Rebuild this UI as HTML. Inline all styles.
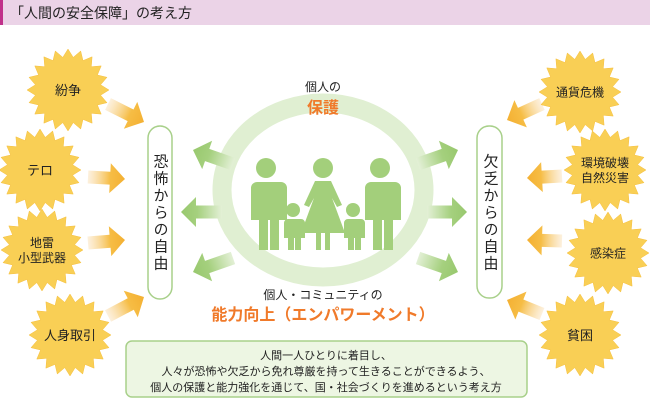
<!DOCTYPE html>
<html><head><meta charset="utf-8"><style>
html,body{margin:0;padding:0;background:#fff;}
svg{display:block;}
text{font-family:"Liberation Sans","Noto Sans CJK JP",sans-serif;}
</style></head><body>
<svg id="s" width="650" height="401" viewBox="0 0 650 401" xmlns="http://www.w3.org/2000/svg">
<defs>
<linearGradient id="og" x1="0" y1="0" x2="1" y2="0"><stop offset="0" stop-color="#fbe7c8" stop-opacity="0.6"/><stop offset="0.6" stop-color="#f6bd45"/><stop offset="1" stop-color="#f4b032"/></linearGradient>
<linearGradient id="gg" x1="0" y1="0" x2="1" y2="0"><stop offset="0" stop-color="#e3f0d6"/><stop offset="0.6" stop-color="#a5d07e"/><stop offset="1" stop-color="#98c86e"/></linearGradient>
</defs>
<rect x="0" y="0" width="650" height="25" fill="#ebd3e7"/>
<rect x="0" y="0" width="3" height="25" fill="#c0308a"/>
<text x="10" y="18" font-size="14" fill="#222">「人間の安全保障」の考え方</text>

<ellipse cx="323" cy="190" rx="101" ry="87" fill="none" stroke="#e0efd2" stroke-width="19"/>
<g id="arrows"></g>
<g id="suns"></g>

<g fill="#a3cf7b">
<circle cx="266" cy="168" r="10"/>
<path d="M251 182 h30 a6 6 0 0 1 6 6 v32 h-8 v30 h-9 v-30 h-2 v30 h-9 v-30 h-8 v-32 a6 6 0 0 1 6 -6z"/>
<circle cx="380" cy="168" r="10"/>
<path d="M365 182 h30 a6 6 0 0 1 6 6 v32 h-8 v30 h-9 v-30 h-2 v30 h-9 v-30 h-8 v-32 a6 6 0 0 1 6 -6z"/>
<circle cx="323" cy="168" r="10"/>
<path d="M315 181 h16 l11 24 l-5 2 l-5 -9 l13 35 h-15 v17 h-5 v-17 h-4 v17 h-5 v-17 h-15 l13 -35 l-5 9 l-5 -2z"/>
<circle cx="293" cy="210" r="7"/>
<path d="M285 219 h16 a4 4 0 0 1 4 4 v15 h-4 v12 h-6 v-12 h-1 v12 h-6 v-12 h-4 v-15 a4 4 0 0 1 4 -4z"/>
<circle cx="353" cy="210" r="7"/>
<path d="M345 219 h16 a4 4 0 0 1 4 4 v15 h-4 v12 h-6 v-12 h-1 v12 h-6 v-12 h-4 v-15 a4 4 0 0 1 4 -4z"/>
</g>

<rect x="148" y="126" width="24" height="173" rx="12" fill="#fff" stroke="#a8d08a" stroke-width="1.5"/>
<rect x="477" y="126" width="25" height="172" rx="12" fill="#fff" stroke="#a8d08a" stroke-width="1.5"/>
<text font-size="15" fill="#222" text-anchor="middle" letter-spacing="2" style="writing-mode:vertical-rl" x="160" y="213">恐怖からの自由</text>
<text font-size="15" fill="#222" text-anchor="middle" letter-spacing="2" style="writing-mode:vertical-rl" x="490" y="213">欠乏からの自由</text>

<text x="323" y="91" font-size="12" fill="#222" text-anchor="middle">個人の</text>
<text x="323" y="113" font-size="16" font-weight="bold" fill="#f07a2a" text-anchor="middle">保護</text>
<text x="323" y="299" font-size="12" fill="#222" text-anchor="middle">個人・コミュニティの</text>
<text x="323" y="320" font-size="16" font-weight="bold" fill="#f07a2a" text-anchor="middle">能力向上（エンパワーメント）</text>

<rect x="126" y="341" width="401" height="56" rx="6" fill="#edf6e3" stroke="#a8d08a" stroke-width="1.5"/>
<g font-size="11" fill="#222" text-anchor="middle">
<text x="326" y="359">人間一人ひとりに着目し、</text>
<text x="326" y="375">人々が恐怖や欠乏から免れ尊厳を持って生きることができるよう、</text>
<text x="326" y="391">個人の保護と能力強化を通じて、国・社会づくりを進めるという考え方</text>
</g>
</svg>
<script>
var NS="http://www.w3.org/2000/svg";
function el(t,a,p){var e=document.createElementNS(NS,t);for(var k in a)e.setAttribute(k,a[k]);p.appendChild(e);return e;}
var A=document.getElementById("arrows");
function arrow(x1,y1,x2,y2,g,sw,hw,hl){
 var dx=x2-x1,dy=y2-y1,L=Math.sqrt(dx*dx+dy*dy),ang=Math.atan2(dy,dx)*180/Math.PI;
 var d="M0 "+(-sw/2)+" L"+(L-hl)+" "+(-sw/2)+" L"+(L-hl)+" "+(-hw/2)+" L"+L+" 0 L"+(L-hl)+" "+(hw/2)+" L"+(L-hl)+" "+(sw/2)+" L0 "+(sw/2)+"Z";
 el("path",{d:d,fill:"url(#"+g+")",transform:"translate("+x1+","+y1+") rotate("+ang+")"},A);
}
arrow(108,104,144,122,"og",13,30,15);
arrow(88,177,125,179,"og",13,30,15);
arrow(88,243,125,240,"og",13,30,15);
arrow(108,316,144,297,"og",13,30,15);
arrow(542,104,507,120,"og",13,30,15);
arrow(562,176,527,178,"og",13,30,15);
arrow(562,241,527,240,"og",13,30,15);
arrow(542,314,507,300,"og",13,30,15);
arrow(233,164,193,150,"gg",13,30,15);
arrow(222,212,181,212,"gg",13,30,15);
arrow(233,258,193,272,"gg",13,30,15);
arrow(418,164,458,150,"gg",13,30,15);
arrow(427,212,467,212,"gg",13,30,15);
arrow(418,258,458,272,"gg",13,30,15);
var S=document.getElementById("suns");
function sun(cx,cy,lines,fs){
 var n=20,p=[];
 for(var i=0;i<n*2;i++){var r=i%2?33:41;var a=Math.PI*i/n-Math.PI/2;p.push((cx+r*Math.cos(a)).toFixed(1)+","+(cy+r*Math.sin(a)).toFixed(1));}
 el("polygon",{points:p.join(" "),fill:"#f9cf55",stroke:"#f6c040","stroke-width":"0.5"},S);
 var lh=fs+3,y0=cy-(lines.length-1)*lh/2+fs*0.38;
 lines.forEach(function(t,i){var e=el("text",{x:cx,y:y0+i*lh,"font-size":fs,fill:"#222","text-anchor":"middle"},S);e.textContent=t;});
}
sun(68,90,["紛争"],13);
sun(40,170,["テロ"],13);
sun(42,250,["地雷","小型武器"],12);
sun(70,335,["人身取引"],13);
sun(580,92,["通貨危機"],12);
sun(605,170,["環境破壊","自然災害"],12);
sun(608,253,["感染症"],12);
sun(580,335,["貧困"],13);
</script>
</body></html>
